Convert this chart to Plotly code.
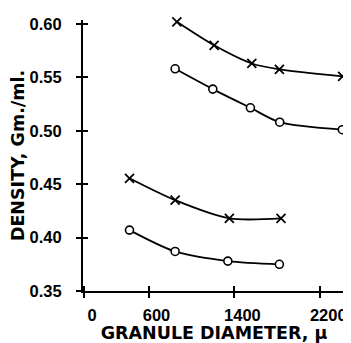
import plotly.graph_objects as go

# Granule diameter (micron) and density (Gm./ml.)
upper_x_diam = [864, 1211, 1562, 1819, 2408]
upper_x_dens = [0.602, 0.580, 0.563, 0.5575, 0.551]

upper_o_diam = [848, 1199, 1549, 1822, 2405]
upper_o_dens = [0.558, 0.539, 0.5215, 0.508, 0.501]

lower_x_diam = [423, 848, 1353, 1834]
lower_x_dens = [0.4555, 0.435, 0.418, 0.418]

lower_o_diam = [423, 848, 1339, 1819]
lower_o_dens = [0.407, 0.387, 0.378, 0.375]

x_ticks = [0, 600, 1400, 2200]
x_tick_labels = ["0", "600", "1400", "2200"]
y_ticks = [0.35, 0.40, 0.45, 0.50, 0.55, 0.60]
y_tick_labels = ["0.35", "0.40", "0.45", "0.50", "0.55", "0.60"]

fig = go.Figure()

def add_series(xs, ys, symbol, size, mlw):
    fig.add_trace(go.Scatter(
        x=xs, y=ys, mode="lines+markers",
        line=dict(color="black", width=1.8, shape="spline", smoothing=0.8),
        marker=dict(symbol=symbol, size=size, color="white",
                    line=dict(color="black", width=mlw)),
        showlegend=False, cliponaxis=False,
    ))

add_series(upper_x_diam, upper_x_dens, "x-thin", 9, 1.8)
add_series(upper_o_diam, upper_o_dens, "circle", 8, 1.6)
add_series(lower_x_diam, lower_x_dens, "x-thin", 9, 1.8)
add_series(lower_o_diam, lower_o_dens, "circle", 8, 1.6)

# invisible trace to host the overlay axes (inside half of crossing ticks)
fig.add_trace(go.Scatter(x=[x_ticks[1]], y=[y_ticks[1]], xaxis="x2", yaxis="y2",
                         mode="markers", marker=dict(opacity=0), showlegend=False,
                         hoverinfo="skip"))

tick_font = dict(family="Liberation Sans, Arial, sans-serif", size=16.5,
                 color="black", weight="bold")
title_font = dict(family="DejaVu Sans, sans-serif", size=17.5, color="black",
                  weight="bold")

X_RANGE = [-10, 2430]
Y_RANGE = [0.35, 0.6037]

# page body has an 8px margin, so the figure is 8px smaller than the window
fig.update_layout(
    width=343, height=335,
    margin=dict(l=75, r=6, t=12, b=52),
    paper_bgcolor="white", plot_bgcolor="white",
    xaxis=dict(
        range=X_RANGE, tickvals=x_ticks, ticktext=x_tick_labels, automargin=False,
        showgrid=False, zeroline=False, showline=True, linecolor="black",
        linewidth=2, ticks="outside", ticklen=5, tickwidth=2, tickcolor="black",
        tickfont=tick_font, ticklabelshift=8, ticklabelstandoff=3,
        title=dict(text="GRANULE DIAMETER, \u03bc", font=title_font, standoff=8),
    ),
    yaxis=dict(
        range=Y_RANGE, tickvals=y_ticks, ticktext=y_tick_labels, automargin=False,
        showgrid=False, zeroline=False, showline=True, linecolor="black",
        linewidth=2, ticks="outside", ticklen=5, tickwidth=2, tickcolor="black",
        tickfont=tick_font, ticklabelstandoff=11,
        title=dict(text="DENSITY, Gm./ml.", font=title_font, standoff=0),
    ),
    xaxis2=dict(
        overlaying="x", range=X_RANGE, anchor="y2", side="bottom", automargin=False,
        tickvals=x_ticks, showticklabels=False, showgrid=False, zeroline=False,
        showline=False, ticks="inside", ticklen=5, tickwidth=2, tickcolor="black",
    ),
    yaxis2=dict(
        overlaying="y", range=Y_RANGE, anchor="x2", side="left", automargin=False,
        tickvals=y_ticks, showticklabels=False, showgrid=False, zeroline=False,
        showline=False, ticks="inside", ticklen=5, tickwidth=2, tickcolor="black",
    ),
)

fig.write_html("out.html")
